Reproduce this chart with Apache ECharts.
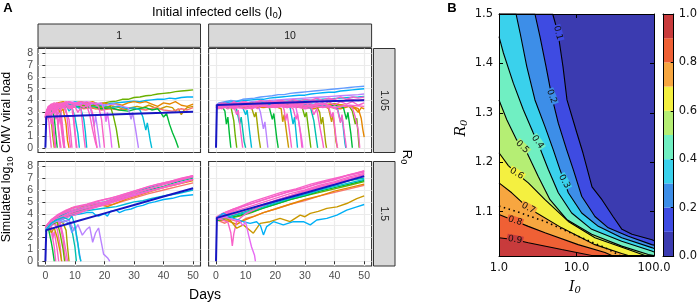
<!DOCTYPE html>
<html><head><meta charset="utf-8">
<script src="https://cdn.jsdelivr.net/npm/echarts@6/dist/echarts.min.js"></script>
<style>html,body{margin:0;padding:0;background:#fff}#c{width:700px;height:304px}</style>
</head><body><div id="c"></div>
<script>
// ---------- Panel A data (days, log10 viral load) ----------
const dayTicks = [0, 10, 20, 30, 40, 50];
const loadTicks = [0, 1, 2, 3, 4, 5, 6, 7, 8];
const colStrips = ['1', '10'];
const rowStrips = ['1.05', '1.5'];
const simPalette = ['#F8766D','#E58700','#C99800','#A3A500','#6BB100','#00BA38','#00BF7D','#00C0AF','#00BCD8','#00B0F6','#619CFF','#B983FF','#E76BF3','#F862C8'];

// I0 = 1, R0 = 1.05
const tlSim = [4,9,1,2,0,5,8,11,4,12,11,8,7,5,3,1,8,13,13,13,13,13,13,13,13,13,13,13,13,13,13,13,13];
const tlTraj = [
 [[0,2.7],[1,3.2],[2,3.5],[4,3.4],[5,3.7],[7,3.6],[9,3.7],[11,3.5],[13,3.6],[15,3.5],[17,3.7],[20,3.8],[22,3.9],[24,3.95],[26,4.1],[28,4.1],[30,4.25],[32,4.3],[34,4.4],[36,4.45],[38,4.55],[40,4.6],[42,4.65],[44,4.75],[46,4.8],[48,4.85],[50,4.9]],
 [[0,2.6],[1,3.1],[2,3.4],[4,3.7],[6,3.8],[8,3.7],[10,3.9],[12,3.8],[14,3.7],[16,3.6],[18,3.7],[20,3.6],[22,3.75],[24,3.8],[26,3.85],[28,3.9],[30,3.95],[32,3.9],[34,4.0],[36,4.05],[38,4.1],[40,4.1],[42,4.2],[44,4.15],[46,4.25],[48,4.3],[50,4.3]],
 [[0,2.6],[1,3.2],[2,3.5],[4,3.8],[6,3.9],[8,3.7],[10,3.8],[12,3.9],[14,3.8],[16,3.9],[18,3.7],[20,3.8],[22,3.6],[24,3.7],[26,3.6],[28,3.8],[30,3.9],[32,3.8],[34,3.9],[36,3.7],[38,3.5],[40,3.8],[42,3.7],[44,3.9],[46,3.6],[48,3.5],[50,3.7]],
 [[0,2.5],[1,3.0],[3,3.3],[5,3.5],[7,3.6],[9,3.4],[11,3.5],[13,3.6],[15,3.4],[17,3.3],[19,3.4],[21,3.3],[23,3.5],[25,3.4],[27,3.2],[29,3.4],[31,3.5],[33,3.4],[35,3.6],[37,3.4],[39,3.3],[41,3.5],[43,3.4],[44,3.1],[45,3.3],[46,2.8],[47,3.2],[48,3.4],[50,3.5]],
 [[0,2.6],[2,3.3],[4,3.5],[7,3.4],[10,3.5],[13,3.3],[16,3.4],[19,3.2],[22,3.3],[25,3.2],[28,3.4],[31,3.3],[34,3.2],[37,3.4],[40,3.2],[43,3.1],[46,3.3],[48,3.2],[50,3.4]],
 [[0,2.6],[2,3.3],[4,3.5],[7,3.6],[10,3.5],[13,3.4],[16,3.5],[19,3.3],[22,3.4],[25,3.2],[28,3.1],[31,3.3],[34,3.4],[36,3.2],[38,3.3],[39,3.0],[40,2.6],[41,2.9],[42,2.0],[43,1.3],[44,0.7],[45,0]],
 [[0,2.5],[2,3.2],[4,3.4],[7,3.6],[10,3.5],[13,3.7],[16,3.5],[19,3.6],[22,3.4],[25,3.5],[28,3.3],[30,3.4],[32,3.2],[33,2.6],[34,1.5],[34.5,2.1],[35.5,0.6],[36,0]],
 [[0,2.7],[2,3.4],[5,3.6],[8,3.8],[11,3.7],[14,3.6],[17,3.8],[20,3.6],[23,3.7],[26,3.5],[28,3.4],[29,2.4],[29.5,3.0],[30.5,1.6],[31,0.8],[31.5,0]],
 [[0,2.6],[2,3.3],[5,3.7],[8,3.6],[11,3.7],[14,3.5],[17,3.6],[20,3.4],[22,3.5],[23,2.7],[24,1.6],[24.5,0.8],[25,0]],
 [[0,2.7],[2,3.4],[5,3.7],[8,3.9],[11,3.8],[14,3.9],[17,3.7],[19,3.8],[20,3.1],[20.5,2.2],[21,3.0],[22,1.2],[22.5,0]],
 [[0,2.6],[2,3.3],[5,3.6],[8,3.8],[11,3.6],[13,3.8],[15,3.5],[16,2.6],[16.5,1.8],[17,2.7],[18,1.0],[18.5,0]],
 [[0,2.6],[1,3.3],[3,3.5],[5,3.3],[7,3.6],[8,3.1],[9,3.4],[10,2.6],[11,1.2],[11.5,0]],
 [[0,2.5],[1,3.2],[2,3.0],[3,3.4],[4,2.8],[5,3.2],[5.5,2.0],[6,0.8],[6.5,0]],
 [[0,2.6],[1,3.0],[2,3.3],[3,2.6],[3.5,1.2],[4,0]],
 [[0,2.5],[1,2.9],[2,2.3],[2.5,1.0],[3,0]],
 [[0,2.6],[1,3.2],[2,3.6],[4,3.4],[5,3.0],[6,3.3],[7,2.0],[7.5,0.6],[8,0]],
 [[0,2.7],[2,3.3],[4,3.6],[6,3.4],[8,3.7],[10,3.5],[12,3.3],[13,2.4],[13.5,1.4],[14,0]],
 [[0,2.6],[0.5,3.1],[1,2.8],[1.5,3.3],[2,2.9],[2.5,1.8],[3,0.6],[3.3,0]],
 [[0,2.5],[0.5,3.3],[1,3.0],[2,3.4],[3,3.1],[3.5,3.4],[4,2.5],[4.5,1.2],[5,0]],
 [[0,2.7],[1,3.5],[2,3.2],[3,3.6],[4,3.3],[5,3.5],[5.5,2.6],[6,1.4],[6.5,0]],
 [[0,2.4],[0.7,2.9],[1.2,2.2],[1.6,1.0],[2,0]],
 [[0,2.6],[1,3.2],[2,3.6],[3,3.3],[4,3.7],[5,3.4],[6,3.6],[7,3.2],[7.5,2.2],[8,1.0],[8.5,0]],
 [[0,2.5],[1,3.0],[2,2.7],[3,3.3],[3.5,2.4],[4,2.8],[4.5,1.5],[5,0.5],[5.3,0]],
 [[0,2.8],[1,3.4],[2,3.7],[3,3.5],[4,3.8],[5,3.5],[6,3.8],[7,3.6],[8,3.4],[9,3.6],[9.5,2.8],[10,1.5],[10.5,0.3],[10.7,0]],
 [[0,2.5],[0.5,2.9],[1,2.4],[1.5,2.8],[2,2.0],[2.5,2.5],[3,1.3],[3.5,0]],
 [[0,2.6],[1,3.3],[3,3.6],[5,3.4],[7,3.7],[9,3.5],[11,3.7],[13,3.4],[14,3.6],[15,2.8],[16,1.5],[17,0.4],[17.5,0]],
 [[0,2.7],[1,3.1],[2,3.5],[4,3.3],[6,3.6],[8,3.3],[10,3.5],[11,3.0],[12,3.4],[12.5,2.2],[13,1.0],[13.5,0]],
 [[0,2.7],[2,3.5],[4,3.8],[6,3.6],[8,3.9],[10,3.7],[12,3.9],[14,3.7],[16,3.8],[18,3.5],[19,2.4],[19.5,1.2],[20,0]],
 [[0,2.6],[1,3.0],[2,3.4],[3,3.0],[4,3.3],[5,2.6],[5.5,1.4],[6,0.4],[6.3,0]],
 [[0,2.7],[1,3.3],[2,3.6],[3,3.4],[4,3.6],[5,3.8],[6,3.5],[7,3.7],[8,3.5],[9,3.3],[9.5,2.4],[10,1.2],[10.5,0]],
 [[0,2.5],[1,3.1],[2,3.3],[3,2.9],[4,3.4],[5,3.2],[6,3.5],[7,3.0],[8,2.4],[8.5,1.3],[9,0]],
 [[0,2.8],[1,3.5],[3,3.8],[5,3.6],[7,3.9],[9,3.7],[11,3.8],[12,3.6],[13,3.8],[14,3.5],[15,3.7],[16,2.9],[16.5,1.8],[17,0.8],[17.5,0]],
 [[0,2.6],[1,3.2],[2,2.9],[3,3.3],[4,3.0],[4.5,2.0],[5,2.7],[6,1.2],[6.5,0]]
];
const tlMean = [[0,0],[0.3,2.62],[10,2.7],[20,2.79],[30,2.88],[40,2.96],[50,3.05]];

// I0 = 10, R0 = 1.05
const trSim = [10,9,11,8,1,5,4,7,8,3,11,5,2,8,12,4,7,3,2,5,4,1,8,13,13,13,13,13,13,13,13,13,13,13];
const trTraj = [
 [[0,3.6],[1,3.8],[3,3.9],[5,4.0],[7,3.95],[9,4.1],[11,4.15],[13,4.2],[15,4.3],[17,4.35],[19,4.4],[21,4.5],[23,4.5],[25,4.6],[27,4.65],[29,4.7],[31,4.75],[33,4.8],[35,4.85],[37,4.9],[39,4.95],[41,5.0],[43,5.05],[45,5.1],[47,5.15],[50,5.2]],
 [[0,3.5],[2,3.8],[4,3.85],[6,3.9],[8,3.95],[10,4.0],[12,4.05],[14,4.1],[16,4.1],[18,4.2],[20,4.25],[22,4.3],[24,4.35],[26,4.4],[28,4.45],[30,4.45],[32,4.55],[34,4.6],[36,4.65],[38,4.7],[40,4.7],[42,4.8],[44,4.85],[46,4.9],[48,4.95],[50,5.0]],
 [[0,3.5],[3,3.7],[6,3.8],[9,3.75],[12,3.9],[15,3.95],[18,4.0],[21,4.05],[24,4.1],[27,4.15],[30,4.2],[33,4.25],[36,4.3],[39,4.35],[42,4.4],[45,4.45],[48,4.5],[50,4.55]],
 [[0,3.5],[3,3.6],[6,3.7],[9,3.65],[12,3.8],[15,3.85],[18,3.9],[21,3.85],[24,3.95],[27,4.0],[30,4.05],[33,4.0],[36,4.1],[39,4.15],[42,4.2],[45,4.25],[48,4.3],[50,4.35]],
 [[0,3.4],[3,3.5],[6,3.4],[9,3.6],[12,3.5],[15,3.6],[18,3.4],[21,3.5],[24,3.6],[27,3.4],[30,3.5],[33,3.3],[36,3.5],[39,3.4],[42,3.3],[45,3.5],[47,3.3],[48,3.0],[49,3.4],[50,3.3]],
 [[0,3.5],[1,3.3],[2,3.5],[3,3.1],[3.5,2.0],[4,2.6],[4.5,1.2],[5,0]],
 [[0,3.4],[2,3.6],[4,3.3],[5,3.5],[6,2.3],[6.5,1.0],[7,0]],
 [[0,3.5],[2,3.7],[4,3.4],[6,3.6],[7,3.2],[8,2.0],[8.5,2.6],[9.5,0.5],[10,0]],
 [[0,3.6],[3,3.5],[6,3.7],[9,3.4],[10,2.8],[10.5,3.2],[11.5,1.0],[12,0]],
 [[0,3.5],[3,3.6],[6,3.4],[9,3.7],[12,3.4],[13,2.6],[13.5,3.0],[14.5,0.8],[15,0]],
 [[0,3.6],[4,3.5],[8,3.8],[12,3.6],[14,3.7],[15,3.0],[16,1.6],[16.5,2.2],[17.5,0]],
 [[0,3.5],[5,3.7],[10,3.5],[15,3.6],[18,3.4],[19,2.4],[19.5,2.9],[20.5,0.8],[21,0]],
 [[0,3.4],[5,3.6],[10,3.4],[15,3.7],[20,3.5],[22,3.3],[22.5,2.2],[23,2.8],[24,0.9],[24.5,0]],
 [[0,3.5],[6,3.7],[12,3.5],[18,3.8],[22,3.6],[25,3.4],[26,2.0],[26.5,2.6],[27.5,0]],
 [[0,3.5],[6,3.6],[12,3.7],[18,3.5],[24,3.6],[27,3.4],[28,2.1],[29,0.6],[29.3,0]],
 [[0,3.5],[6,3.6],[12,3.8],[18,3.5],[24,3.7],[29,3.5],[30,2.6],[30.5,3.0],[31.5,1.0],[32,0]],
 [[0,3.4],[6,3.6],[12,3.5],[18,3.7],[24,3.5],[30,3.6],[32,3.3],[33,2.3],[34,0.5],[34.3,0]],
 [[0,3.5],[6,3.6],[12,3.4],[18,3.6],[24,3.5],[30,3.7],[34,3.5],[35,3.0],[35.5,2.0],[36,2.6],[37,0.4],[37.3,0]],
 [[0,3.5],[6,3.7],[12,3.5],[18,3.6],[24,3.8],[30,3.5],[36,3.6],[38,3.3],[39,2.2],[39.5,2.8],[40.5,0.5],[41,0]],
 [[0,3.4],[8,3.6],[16,3.5],[24,3.7],[32,3.5],[40,3.6],[43,3.4],[44,2.4],[44.5,3.0],[45.5,1.2],[46,0]],
 [[0,3.5],[8,3.7],[16,3.6],[24,3.8],[32,3.6],[40,3.7],[45,3.5],[46,3.1],[47,2.0],[47.5,2.5],[48.3,0]],
 [[0,3.5],[8,3.6],[16,3.4],[24,3.6],[32,3.5],[40,3.7],[46,3.5],[48,3.3],[49,2.5],[49.5,1.6],[50,0.9]],
 [[0,3.6],[8,3.5],[16,3.7],[24,3.5],[32,3.7],[38,3.5],[41,3.3],[42,2.2],[42.5,2.7],[43.5,0.4],[43.8,0]],
 [[0,3.5],[2,3.7],[4,3.5],[6,3.8],[8,3.6],[10,3.9],[12,3.7],[14,3.9],[16,3.7],[18,4.0],[20,3.8],[22,4.0],[24,3.9],[26,4.1],[28,3.9],[30,4.1],[32,4.0],[34,4.2],[36,4.0],[38,4.2],[40,4.1],[42,4.3],[44,4.1],[46,4.3],[48,4.2],[50,4.3]],
 [[0,3.4],[2,3.6],[4,3.3],[6,3.6],[8,3.4],[10,3.7],[12,3.4],[14,3.7],[16,3.5],[18,3.8],[20,3.5],[22,3.7],[24,3.5],[26,3.8],[28,3.6],[30,3.8],[32,3.5],[34,3.8],[36,3.6],[38,3.9],[40,3.6],[42,3.9],[44,3.7],[46,3.9],[48,3.6],[50,3.8]],
 [[0,3.5],[2,3.3],[4,3.6],[6,3.4],[8,3.7],[10,3.5],[12,3.6],[14,3.3],[16,3.6],[18,3.4],[20,3.7],[22,3.5],[24,3.6],[26,3.3],[27,2.4],[27.5,2.9],[28.5,1.2],[29,0]],
 [[0,3.6],[3,3.4],[6,3.7],[9,3.5],[12,3.8],[15,3.6],[18,3.8],[21,3.5],[24,3.8],[27,3.6],[30,3.9],[33,3.6],[36,3.8],[39,3.5],[41,3.2],[42,2.1],[42.5,2.8],[43.5,0.9],[44,0]],
 [[0,3.4],[4,3.6],[8,3.4],[12,3.7],[16,3.5],[20,3.6],[24,3.4],[28,3.7],[32,3.5],[36,3.7],[40,3.4],[44,3.6],[46,3.4],[47,2.6],[48,1.5],[48.5,0]],
 [[0,3.5],[3,3.7],[6,3.5],[9,3.8],[12,3.6],[15,3.7],[18,3.5],[21,3.8],[24,3.6],[27,3.7],[30,3.5],[32,3.6],[33,2.8],[34,3.3],[35,1.8],[36,0.5],[36.3,0]],
 [[0,3.3],[5,3.5],[10,3.3],[15,3.6],[20,3.4],[25,3.6],[30,3.3],[35,3.5],[40,3.4],[45,3.6],[50,3.5]],
 [[0,3.6],[2,3.8],[4,3.6],[6,3.9],[8,3.7],[10,3.8],[12,3.6],[14,3.9],[16,3.7],[18,3.9],[20,3.6],[22,3.9],[23,3.2],[23.5,2.3],[24,2.9],[25,1.0],[25.5,0]],
 [[0,3.4],[3,3.6],[6,3.3],[9,3.5],[12,3.3],[15,3.6],[18,3.4],[21,3.6],[24,3.4],[27,3.6],[30,3.4],[33,3.6],[36,3.4],[38,3.5],[39,2.6],[39.5,3.0],[40.5,0.8],[41,0]],
 [[0,3.6],[2,3.5],[4,3.7],[6,3.5],[7,2.8],[7.5,3.2],[8.5,1.0],[9,0]],
 [[0,3.5],[3,3.8],[6,3.6],[9,3.9],[12,3.7],[15,4.0],[18,3.8],[21,4.0],[24,3.8],[27,4.0],[30,3.8],[33,4.0],[36,3.9],[39,4.1],[42,3.9],[45,4.1],[48,4.0],[50,4.1]]
];
const trMean = [[0,0],[0.3,3.62],[10,3.7],[20,3.79],[30,3.87],[40,3.95],[50,4.03]];

// I0 = 1, R0 = 1.5
const blSim = [9,8,0,1,6,12,7,13,13,13,13,13,13,13,13,13,13,13,2,3,5,4,7,10,11,8];
const blTraj = [
 [[0,2.6],[2,3.1],[4,3.4],[6,3.6],[8,3.8],[10,3.9],[12,4.0],[14,4.1],[16,4.1],[17,3.9],[18,3.8],[19,3.9],[20,4.0],[21,3.8],[22,4.2],[24,4.3],[25,4.1],[27,4.3],[29,4.4],[31,4.6],[33,4.7],[35,4.9],[37,5.0],[40,5.2],[43,5.3],[46,5.5],[50,5.6]],
 [[0,2.6],[3,3.3],[6,3.7],[9,3.9],[12,4.2],[15,4.3],[18,4.4],[21,4.5],[24,4.6],[27,4.8],[30,5.0],[33,5.1],[36,5.3],[40,5.5],[45,5.7],[50,6.0]],
 [[0,2.7],[3,3.5],[7,3.9],[11,4.1],[15,4.5],[19,4.7],[23,4.8],[27,5.1],[31,5.4],[35,5.7],[40,6.0],[45,6.3],[50,6.6]],
 [[0,2.7],[3,3.6],[6,4.1],[9,4.5],[12,4.6],[15,4.7],[18,4.8],[21,4.6],[24,4.9],[28,5.3],[32,5.6],[36,5.9],[40,6.2],[45,6.5],[50,6.8]],
 [[0,2.6],[4,3.6],[8,4.0],[12,4.3],[16,4.6],[20,4.9],[25,5.2],[30,5.6],[35,6.0],[40,6.3],[45,6.7],[50,7.0]],
 [[0,2.8],[4,3.7],[8,4.1],[12,4.4],[16,4.6],[20,4.9],[25,5.3],[30,5.6],[35,5.9],[40,6.2],[45,6.6],[50,6.9]],
 [[0,2.7],[4,3.7],[8,4.2],[12,4.5],[16,4.8],[20,5.0],[25,5.4],[30,5.8],[35,6.2],[40,6.5],[45,6.8],[50,7.1]],
 [[0,2.8],[2,3.4],[5,3.9],[8,4.2],[12,4.5],[16,4.8],[20,5.0],[25,5.4],[30,5.8],[35,6.1],[40,6.5],[45,6.8],[50,7.1]],
 [[0,2.6],[2,3.2],[5,3.6],[8,3.9],[12,4.2],[16,4.5],[20,4.8],[25,5.2],[30,5.5],[35,5.9],[40,6.2],[45,6.5],[50,6.9]],
 [[0,2.7],[3,3.5],[6,3.8],[10,4.2],[14,4.5],[18,4.8],[22,5.1],[26,5.4],[30,5.7],[34,6.0],[38,6.3],[42,6.6],[46,6.9],[50,7.2]],
 [[0,2.5],[3,3.2],[6,3.6],[10,3.9],[14,4.3],[18,4.6],[22,4.9],[26,5.2],[30,5.5],[34,5.8],[38,6.1],[42,6.4],[46,6.6],[50,6.9]],
 [[0,2.9],[2,3.5],[4,3.9],[7,4.3],[10,4.6],[14,4.8],[18,5.1],[22,5.3],[26,5.6],[30,5.9],[34,6.2],[38,6.5],[42,6.7],[46,7.0],[50,7.2]],
 [[0,2.7],[1,3.1],[2,2.6],[3,1.2],[3.5,0]],
 [[0,2.6],[1.5,3.0],[3,3.2],[4,2.7],[5,1.3],[5.5,0]],
 [[0,2.8],[2,3.3],[4,3.0],[5,3.3],[6,2.2],[7,0.8],[7.5,0]],
 [[0,2.6],[1,3.1],[2,3.4],[3,3.1],[4,3.4],[5,3.0],[6,1.8],[6.5,0.7],[7,0]],
 [[0,2.7],[1,3.2],[2,3.0],[2.5,1.9],[3,2.5],[4,1.0],[4.5,0]],
 [[0,2.8],[2,3.5],[4,3.8],[6,4.1],[8,4.3],[10,4.5],[13,4.7],[16,4.9],[20,5.2],[25,5.5],[30,5.9],[35,6.3],[40,6.6],[45,6.9],[50,7.2]],
 [[0,2.6],[1,3.0],[2,2.4],[3,2.8],[4,2.0],[5,0.8],[5.5,0]],
 [[0,2.7],[2,3.2],[4,3.5],[6,3.2],[7,2.6],[7.5,1.2],[8,0]],
 [[0,2.5],[1,2.8],[2,1.6],[2.5,0.9],[3,0]],
 [[0,2.6],[2,3.1],[4,3.3],[5,2.3],[6,1.0],[6.5,0]],
 [[0,2.7],[2,3.2],[4,3.5],[6,3.3],[8,3.5],[9,2.6],[10,1.2],[10.5,0]],
 [[0,2.6],[3,3.3],[6,3.5],[8,3.2],[9,2.4],[10,2.9],[11,1.4],[12,0]],
 [[0,2.7],[2,3.2],[4,3.4],[6,3.3],[8,3.5],[9,2.9],[10,2.6],[11,3.1],[12.5,2.2],[14,2.7],[15,2.9],[16,1.6],[17,2.4],[18,2.8],[19,1.5],[19.7,0.6],[21,0.3],[21.8,0]],
 [[0,2.6],[2,3.2],[4,3.5],[6,3.7],[8,3.5],[9,3.8],[10,3.0],[11,1.5],[11.5,0.5],[12,0]]
];
const blMean = [[0,0],[0.3,2.62],[10,3.32],[20,4.03],[30,4.74],[40,5.45],[50,6.15]];

// I0 = 10, R0 = 1.5
const brSim = [0,1,4,5,8,11,7,13,13,13,13,13,13,2,9,12];
const brTraj = [
 [[0,3.5],[3,3.2],[5,3.5],[8,3.3],[10,3.6],[13,3.8],[16,4.1],[20,4.4],[25,4.8],[30,5.1],[35,5.5],[40,5.8],[45,6.1],[50,6.4]],
 [[0,3.5],[4,3.4],[7,3.1],[9,3.4],[12,3.7],[16,4.1],[20,4.4],[25,4.8],[30,5.2],[35,5.5],[40,5.9],[45,6.2],[50,6.5]],
 [[0,3.5],[4,3.6],[8,3.8],[12,4.1],[16,4.5],[20,4.8],[25,5.2],[30,5.5],[35,5.8],[40,6.1],[45,6.4],[50,6.7]],
 [[0,3.4],[5,3.7],[10,4.0],[15,4.4],[20,4.8],[25,5.2],[30,5.5],[35,5.9],[40,6.2],[45,6.5],[50,6.8]],
 [[0,3.5],[5,3.8],[10,4.1],[15,4.5],[20,4.9],[25,5.3],[30,5.6],[35,6.0],[40,6.3],[45,6.6],[50,6.9]],
 [[0,3.5],[5,3.9],[10,4.3],[15,4.7],[20,5.1],[25,5.5],[30,5.9],[35,6.2],[40,6.5],[45,6.8],[50,7.1]],
 [[0,3.6],[2,4.0],[5,3.8],[10,4.2],[15,4.6],[20,5.0],[25,5.4],[30,5.7],[35,6.1],[40,6.4],[45,6.8],[50,7.0]],
 [[0,3.7],[3,4.1],[6,4.4],[10,4.7],[15,5.1],[20,5.5],[25,5.9],[30,6.2],[35,6.6],[40,6.9],[45,7.3],[50,7.6]],
 [[0,3.6],[3,3.9],[6,4.2],[10,4.5],[15,4.9],[20,5.3],[25,5.7],[30,6.0],[35,6.4],[40,6.7],[45,7.1],[50,7.4]],
 [[0,3.5],[3,3.8],[6,4.0],[10,4.3],[15,4.7],[20,5.1],[25,5.5],[30,5.9],[35,6.2],[40,6.6],[45,6.9],[50,7.3]],
 [[0,3.6],[2,3.9],[5,4.2],[9,4.6],[14,5.0],[19,5.4],[24,5.8],[29,6.1],[34,6.5],[39,6.8],[44,7.2],[50,7.5]],
 [[0,3.6],[2,3.5],[4,3.3],[5,2.4],[5.5,1.3],[6,2.3],[7,3.4],[10,4.0],[15,4.6],[20,5.1],[25,5.5],[30,5.9],[35,6.3],[40,6.6],[45,7.0],[50,7.3]],
 [[0,3.7],[2,4.0],[5,4.3],[8,4.6],[12,5.0],[17,5.4],[22,5.8],[27,6.1],[32,6.5],[37,6.8],[42,7.1],[47,7.4],[50,7.6]],
 [[0,3.6],[2,3.7],[4.7,3.47],[7,2.78],[9.2,3.06],[11,2.7],[12.6,2.36],[14.9,3.19],[18.2,3.33],[21.6,3.61],[25,3.33],[28.4,3.89],[30,3.75],[31.8,4.03],[34.5,4.2],[37.4,4.45],[40.8,4.58],[44.1,4.86],[47.5,5.28],[50,5.5]],
 [[0,3.6],[2.5,4.03],[5.9,3.61],[9.2,3.33],[11.5,3.19],[13.7,3.33],[15,3.0],[16,2.22],[17.1,2.92],[19.4,3.33],[22.7,3.06],[26.1,3.33],[29.5,3.33],[31.8,3.06],[34,3.47],[37.4,3.61],[40.8,3.89],[44.1,4.31],[47.5,4.58],[50,4.78]],
 [[0,3.6],[3,3.7],[6,3.5],[8,3.4],[9,3.0],[10,3.3],[11,2.2],[12,1.2],[13,0.5],[13.3,0]]
];
const brMean = [[0,0],[0.3,3.65],[10,4.35],[20,5.05],[30,5.75],[40,6.45],[50,7.17]];

// ---------- Panel B data: contour lines [I0, R0] ----------
const r0Ticks = [1.1, 1.2, 1.3, 1.4, 1.5];
const contourLevels = [0.1, 0.2, 0.3, 0.4, 0.5, 0.6, 0.7, 0.8, 0.9];
const c01 = [[1,1.5],[4.93,1.5],[5.77,1.462],[6.70,1.393],[7.54,1.326],[10.07,1.26],[12.1,1.219],[15.85,1.15],[21.3,1.124],[29.6,1.09],[38.6,1.064],[52,1.054],[94.2,1.043],[100,1.041]];
const c02 = [[1,1.5],[2.91,1.5],[3.38,1.454],[4.04,1.394],[4.79,1.333],[5.82,1.279],[7.47,1.225],[9.09,1.185],[11.67,1.131],[17.3,1.09],[25.7,1.067],[46.6,1.05],[93.4,1.033],[100,1.032]];
const c03 = [[1,1.5],[1.66,1.5],[1.87,1.462],[2.28,1.394],[2.91,1.326],[3.92,1.272],[5.02,1.225],[6.12,1.185],[6.96,1.161],[7.84,1.138],[11.67,1.097],[19.1,1.07],[38.3,1.047],[93.4,1.027],[100,1.025]];
const c04 = [[1,1.454],[1.14,1.421],[1.53,1.36],[2.06,1.306],[2.77,1.259],[3.15,1.241],[3.56,1.219],[4.33,1.185],[5.82,1.138],[8.67,1.097],[15.7,1.064],[38.3,1.04],[93.4,1.02],[100,1.018]];
const c05 = [[1,1.326],[1.26,1.286],[1.69,1.245],[2.0,1.231],[2.33,1.217],[3.21,1.171],[4.55,1.124],[7.47,1.084],[15.7,1.054],[38.3,1.03],[84.4,1.013],[100,1.011]];
const c06 = [[1,1.219],[1.32,1.193],[1.69,1.177],[2.39,1.158],[3.92,1.124],[7.84,1.08],[17.3,1.047],[46.6,1.023],[76.5,1.011],[100,1.011]];
const c07 = [[1,1.158],[1.46,1.138],[2.39,1.107],[6.44,1.067],[17.3,1.033],[38.3,1.015],[46.6,1.011],[100,1.011]];
const c08 = [[1,1.094],[1.61,1.081],[2.39,1.07],[3.92,1.057],[10.5,1.033],[23.3,1.017],[28.5,1.011],[100,1.011]];
const c09 = [[1,1.047],[1.61,1.043],[2.39,1.037],[6.44,1.023],[15.7,1.011],[100,1.011]];
const cDotted = [[1,1.111],[1.61,1.101],[3.92,1.08],[10.5,1.05],[23.3,1.027],[36.4,1.011]];
const cbLevels = [0, 0.1, 0.2, 0.3, 0.4, 0.5, 0.6, 0.7, 0.8, 0.9, 1.0];

// ---------- styling / layout ----------
const FA = '"Liberation Sans", Arial, sans-serif';
const FB = '"DejaVu Sans", sans-serif';
const bandColors = ['#3B3BB0','#3E4BE2','#3D8EE8','#3AD1EC','#70EFC2','#B5EE74','#F4F040','#F7A640','#EF6035','#C83B3C'];
const contours = [c01,c02,c03,c04,c05,c06,c07,c08,c09];
const labelIdx = [2,4,8,5,3,2,2,1,1];
const labelRot = [-75,-70,-62,-55,-45,-32,-28,-18,-10];

const gridsA = [
 {left:38, top:48.5, width:162.5, height:104},
 {left:208.6, top:48.5, width:163, height:104},
 {left:38, top:161.5, width:162.5, height:104.5},
 {left:208.6, top:161.5, width:163, height:104.5}
];
const grids = gridsA.map(g => Object.assign({show:true, backgroundColor:'#fff', borderColor:'#333', borderWidth:1.1}, g));
grids.push({left:499, top:14, width:155, height:242, show:true, backgroundColor:bandColors[0], borderWidth:0});
grids.push({left:663, top:14, width:13, height:242, show:false});

const xAxes = [], yAxes = [];
for (let g = 0; g < 4; g++) {
  const bottom = g >= 2, left = g % 2 === 0;
  xAxes.push({gridIndex:g, type:'value', min:-2.5, max:52.5,
    axisLine:{show:false},
    axisTick:{show:bottom, length:3, customValues:dayTicks, lineStyle:{color:'#333'}},
    axisLabel:{show:bottom, customValues:dayTicks, color:'#4D4D4D', fontSize:10.5, fontFamily:FA, margin:5},
    splitLine:{show:true, lineStyle:{color:'#EBEBEB', width:1.2}}});
  yAxes.push({gridIndex:g, type:'value', min:-0.4, max:8.4,
    axisLine:{show:false},
    axisTick:{show:left, length:3, customValues:loadTicks, lineStyle:{color:'#333'}},
    axisLabel:{show:left, customValues:loadTicks, color:'#4D4D4D', fontSize:10.5, fontFamily:FA, margin:5},
    splitLine:{show:true, lineStyle:{color:'#EBEBEB', width:1.2}}});
}
// panel B
xAxes.push({gridIndex:4, type:'log', logBase:10, min:1, max:100, position:'bottom', z:10,
  axisLine:{show:true, onZero:false, lineStyle:{color:'#000', width:1}},
  axisTick:{show:true, inside:true, length:4, lineStyle:{color:'#000'}},
  axisLabel:{formatter:v => Number(v).toFixed(1), color:'#111', fontSize:11.5, fontFamily:FB, margin:6},
  splitLine:{show:false}});
xAxes.push({gridIndex:4, type:'log', logBase:10, min:1, max:100, position:'top', z:10,
  axisLine:{show:true, onZero:false, lineStyle:{color:'#000', width:1}},
  axisTick:{show:true, inside:true, length:4, lineStyle:{color:'#000'}},
  axisLabel:{show:false}, splitLine:{show:false}});
yAxes.push({gridIndex:4, type:'value', min:1.01, max:1.5, position:'left', z:10,
  axisLine:{show:true, onZero:false, lineStyle:{color:'#000', width:1}},
  axisTick:{show:true, inside:true, length:4, customValues:r0Ticks, lineStyle:{color:'#000'}},
  axisLabel:{customValues:r0Ticks, formatter:v => Number(v).toFixed(1), color:'#111', fontSize:11.5, fontFamily:FB, margin:6},
  splitLine:{show:false}});
yAxes.push({gridIndex:4, type:'value', min:1.01, max:1.5, position:'right', z:10,
  axisLine:{show:true, onZero:false, lineStyle:{color:'#000', width:1}},
  axisTick:{show:true, inside:true, length:4, customValues:r0Ticks, lineStyle:{color:'#000'}},
  axisLabel:{show:false}, splitLine:{show:false}});
// colorbar
xAxes.push({gridIndex:5, type:'category', data:['cb'], position:'bottom', z:10,
  axisLine:{show:true, onZero:false, lineStyle:{color:'#000'}}, axisTick:{show:false}, axisLabel:{show:false}});
xAxes.push({gridIndex:5, type:'category', data:['cb'], position:'top', z:10,
  axisLine:{show:true, onZero:false, lineStyle:{color:'#000'}}, axisTick:{show:false}, axisLabel:{show:false}});
yAxes.push({gridIndex:5, type:'value', min:0, max:1, interval:0.2, position:'right', z:10,
  axisLine:{show:true, onZero:false, lineStyle:{color:'#000'}},
  axisTick:{show:true, inside:true, length:3, lineStyle:{color:'#000'}},
  axisLabel:{formatter:v => Number(v).toFixed(1), color:'#111', fontSize:11.5, fontFamily:FB, margin:5},
  splitLine:{show:false}});
yAxes.push({gridIndex:5, type:'value', min:0, max:1, position:'left', z:10,
  axisLine:{show:true, onZero:false, lineStyle:{color:'#000'}}, axisTick:{show:false}, axisLabel:{show:false}, splitLine:{show:false}});

const series = [];
[[tlTraj,tlSim,tlMean],[trTraj,trSim,trMean],[blTraj,blSim,blMean],[brTraj,brSim,brMean]].forEach(([traj, sim, mean], g) => {
  traj.forEach((pts, i) => series.push({type:'line', xAxisIndex:g, yAxisIndex:g, data:pts, symbol:'none', silent:true, clip:true,
    lineStyle:{color:simPalette[sim[i]], width:1.4}, z:2}));
  series.push({type:'line', xAxisIndex:g, yAxisIndex:g, data:mean, symbol:'none', silent:true, clip:true,
    lineStyle:{color:'#1616C2', width:2}, z:4});
});
contours.forEach((c, k) => series.push({type:'line', xAxisIndex:4, yAxisIndex:4, data:c, symbol:'none', silent:true,
  lineStyle:{width:0, opacity:0}, areaStyle:{color:bandColors[k+1], opacity:1, origin:'start'}, z:2}));
contours.forEach((c, k) => series.push({type:'line', xAxisIndex:4, yAxisIndex:4, silent:true,
  symbol:'circle', symbolSize:0, showSymbol:true,
  data:c.map((p, i) => i === labelIdx[k] ? {value:p, label:{show:true, position:'inside', formatter:contourLevels[k].toFixed(1),
    rotate:labelRot[k], color:'#111', fontSize:9, fontFamily:FB, backgroundColor:bandColors[k+1], padding:[0,1]}} : p),
  lineStyle:{color:'#000', width:1.1}, z:3}));
series.push({type:'line', xAxisIndex:4, yAxisIndex:4, data:cDotted, symbol:'none', silent:true,
  lineStyle:{color:'#000', width:1.6, type:[1.5,3.5]}, z:3});
bandColors.forEach((col, k) => series.push({type:'bar', xAxisIndex:6, yAxisIndex:6, stack:'cb', silent:true,
  data:[+(cbLevels[k+1] - cbLevels[k]).toFixed(3)], barWidth:'100%', itemStyle:{color:col}}));

function txt(x, y, text, o) {
  o = o || {};
  return {type:'text', x:x, y:y, rotation:o.rot || 0, z:100, silent:true,
    style:{text:text, fill:o.fill || '#000', align:'center', verticalAlign:'middle',
      fontSize:o.size || 13, fontFamily:o.family || FA, fontWeight:o.weight || 'normal', fontStyle:o.style || 'normal', rich:o.rich}};
}
function subRich(size, family, style) {
  return {n:{fontSize:size, fontFamily:family, fontStyle:style||'normal', lineHeight:size+3, verticalAlign:'middle'},
          s:{fontSize:Math.round(size*0.68), fontFamily:family, fontStyle:style||'normal', lineHeight:Math.round(size*0.7), verticalAlign:'bottom'}};
}
const graphics = [];
graphics.push(txt(8, 8, 'A', {weight:'bold', size:13}));
graphics.push(txt(452, 8, 'B', {weight:'bold', size:13}));
graphics.push(txt(217, 12, '{n|Initial infected cells (I}{s|0}{n|)}', {rich:subRich(13, FA)}));
graphics.push(txt(7, 157, '{n|Simulated log}{s|10}{n| CMV viral load}', {rot:Math.PI/2, rich:subRich(12.5, FA)}));
graphics.push(txt(205, 295, 'Days', {size:14}));
graphics.push(txt(407, 157, '{n|R}{s|0}', {rot:-Math.PI/2, rich:subRich(13, FA)}));
graphics.push(txt(461, 128, '{n|R}{s|0}', {rot:Math.PI/2, rich:subRich(14, '"DejaVu Serif", serif', 'italic')}));
graphics.push(txt(575, 287, '{n|I}{s|0}', {rich:subRich(14, '"DejaVu Serif", serif', 'italic')}));
// facet strips
[0, 1].forEach(c => {
  const g = gridsA[c];
  graphics.push({type:'rect', z:90, silent:true, shape:{x:g.left, y:24, width:g.width, height:23.3}, style:{fill:'#D9D9D9', stroke:'#333', lineWidth:1}});
  graphics.push(txt(g.left + g.width/2, 35.8, colStrips[c], {size:10.5, fill:'#1A1A1A'}));
});
[0, 1].forEach(r => {
  const g = gridsA[r*2+1];
  graphics.push({type:'rect', z:90, silent:true, shape:{x:373.5, y:g.top, width:21.5, height:g.height}, style:{fill:'#D9D9D9', stroke:'#333', lineWidth:1}});
  graphics.push(txt(384.3, g.top + g.height/2, rowStrips[r], {size:10.5, fill:'#1A1A1A', rot:-Math.PI/2}));
});

const chart = echarts.init(document.getElementById('c'), null, {renderer:'canvas'});
chart.setOption({animation:false, backgroundColor:'#fff', grid:grids, xAxis:xAxes, yAxis:yAxes, series:series, graphic:graphics});
</script></body></html>
